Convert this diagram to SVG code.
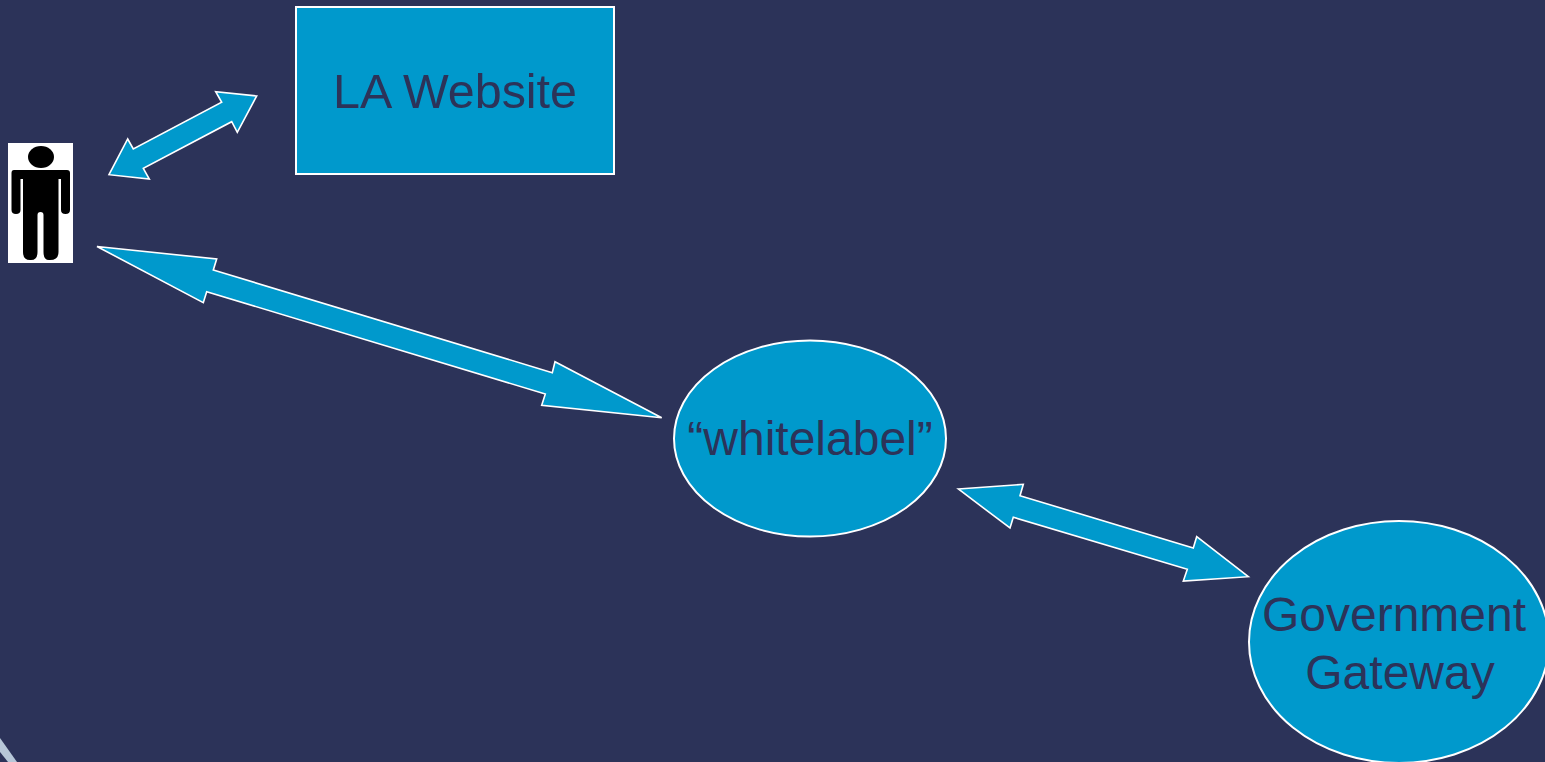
<svg xmlns="http://www.w3.org/2000/svg" width="1545" height="762" viewBox="0 0 1545 762">
<style>
.shape{fill:#0099CC;stroke:#FFFFFF;stroke-width:2;stroke-linejoin:miter}
.arrow{fill:#0099CC;stroke:#FFFFFF;stroke-width:1.6;stroke-linejoin:miter}
.label{font-family:"Liberation Sans",Arial,sans-serif;font-size:48px;fill:#2C3359;text-anchor:middle}
</style>
<rect width="1545" height="762" fill="#2C3359"/>
<path d="M0 738 L0 752 L8 762 L17 762 Z" fill="#B7C7D8"/>
<g id="connectors">
<polygon class="arrow" points="256.7,96 215.7,91.7 221.7,102.3 133.3,149 127.7,139 109,174.7 149.3,179 143.3,168.3 231.7,121.7 237.3,132.3"/>
<polygon class="arrow" points="97,246.5 216.7,259 213.3,270 552.3,372.7 555,361.7 661.7,417.7 541.7,405.3 545.3,394 206.7,291.7 203.3,302.7"/>
<polygon class="arrow" points="958.3,489 1023.3,484.3 1020,495.7 1193.3,548 1196.7,536.7 1248.3,576.7 1183.3,581 1187.3,569.3 1013.3,517.3 1010,528"/>
</g>
<g id="person">
<rect x="8" y="143" width="65" height="120" fill="#FFFFFF"/>
<ellipse cx="41" cy="157" rx="13" ry="11" fill="#000000"/>
<path d="M14 170 H67 Q70 170 70 173 V210 Q70 214 65.500 214 Q61 214 61 210 V179 H58.500 V252 Q58.500 260 50 260 H49 Q43.500 260 43.500 252 V215 Q43.500 212 40.500 212 Q37.500 212 37.500 215 V252 Q37.500 260 31 260 H30 Q23 260 23 252 V179 H20.500 V210 Q20.500 214 16 214 Q11.500 214 11.500 210 V173 Q11.500 170 14 170 Z" fill="#000000"/>
</g>
<g id="la-website">
<rect class="shape" x="296" y="7" width="318" height="167"/>
<text class="label" x="455" y="108" textLength="244" lengthAdjust="spacingAndGlyphs">LA Website</text>
</g>
<g id="whitelabel">
<ellipse class="shape" cx="810" cy="438.500" rx="136" ry="98"/>
<text class="label" x="810" y="455">“whitelabel”</text>
</g>
<g id="government-gateway">
<ellipse class="shape" cx="1399" cy="642" rx="150" ry="121"/>
<text class="label" x="1394" y="631">Government</text>
<text class="label" x="1400" y="689">Gateway</text>
</g>
</svg>
